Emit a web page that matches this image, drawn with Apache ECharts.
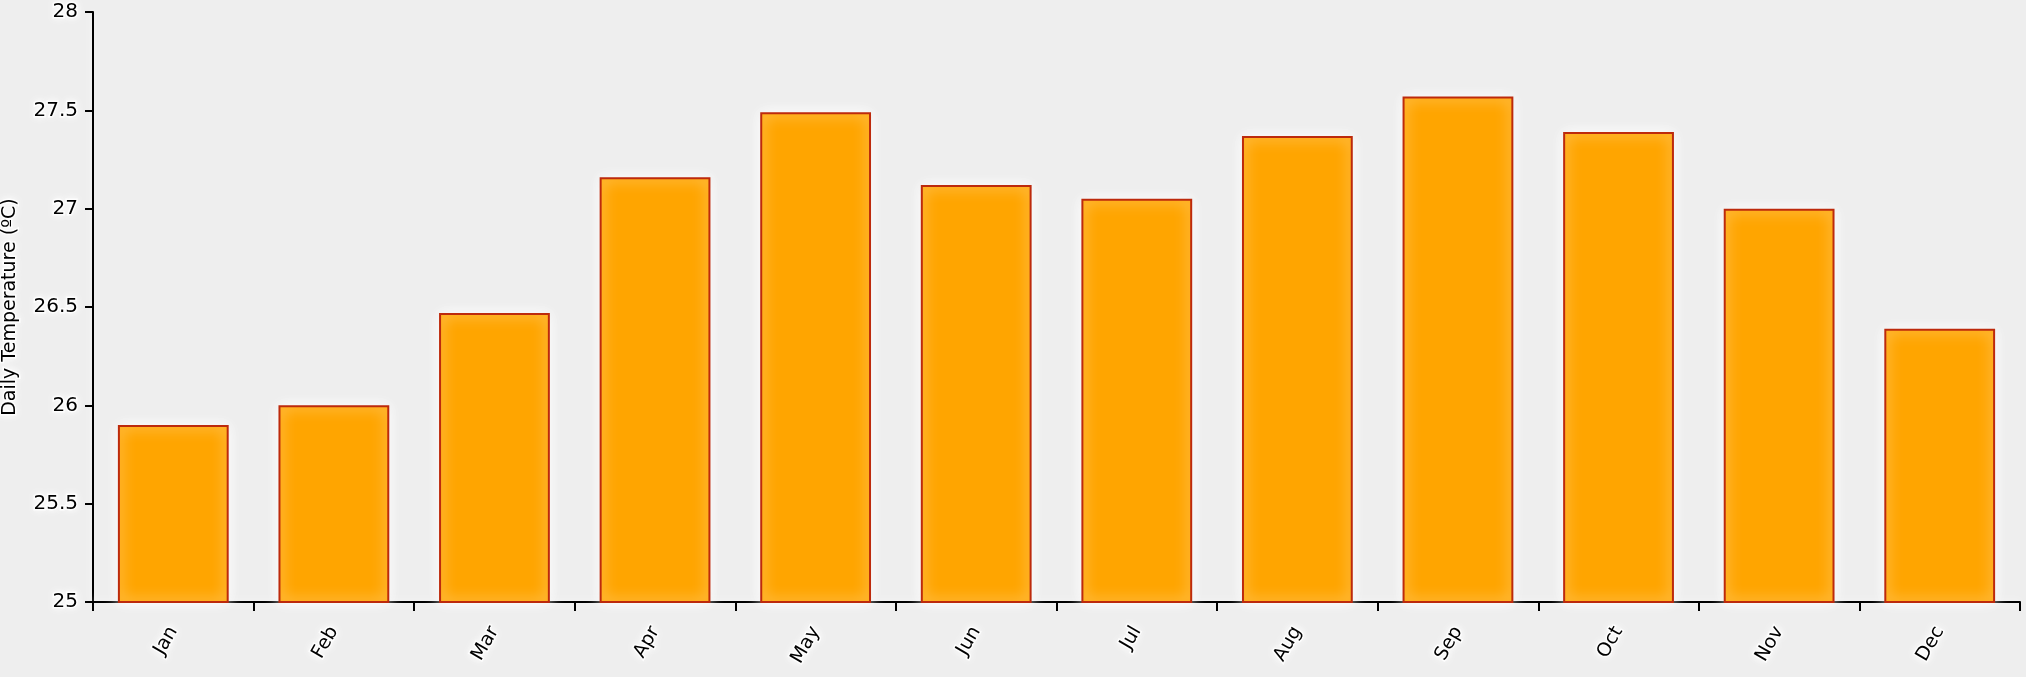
<!DOCTYPE html>
<html>
<head>
<meta charset="utf-8">
<script src="https://cdn.jsdelivr.net/npm/echarts@6/dist/echarts.min.js"></script>
<style>
html,body{margin:0;padding:0;background:#eeeeee;}
#chart{width:2026px;height:677px;}
</style>
</head>
<body>
<div id="chart"></div>
<script>
const categories = ['Jan','Feb','Mar','Apr','May','Jun','Jul','Aug','Sep','Oct','Nov','Dec'];
const temperatures = [25.9, 26.0, 26.47, 27.16, 27.49, 27.12, 27.05, 27.37, 27.57, 27.39, 27.0, 26.39];
const yAxisTitle = 'Daily Temperature (ºC)';

const FONT = 'DejaVu Sans';
const glowText = {textBorderColor:'rgba(255,255,255,0.85)', textBorderWidth:3, textShadowColor:'#ffffff', textShadowBlur:8};

const chart = echarts.init(document.getElementById('chart'), null, {renderer:'canvas'});
chart.setOption({
  backgroundColor:'#eeeeee',
  animation:false,
  grid:{left:93, right:6, top:12, bottom:75, containLabel:false, outerBoundsMode:'none'},
  xAxis:{
    type:'category',
    data:categories,
    axisLine:{lineStyle:{color:'#000', width:2, shadowColor:'#fff', shadowBlur:8}},
    axisTick:{show:true, length:9, alignWithLabel:false, lineStyle:{color:'#000', width:2}},
    axisLabel:{rotate:60, margin:26, fontSize:19, fontFamily:FONT, color:'#000', ...glowText},
    splitLine:{show:false}
  },
  yAxis:{
    type:'value',
    min:25, max:28, interval:0.5,
    name:yAxisTitle,
    nameLocation:'middle',
    nameGap:65,
    nameTextStyle:{fontSize:19, fontFamily:FONT, color:'#000', ...glowText},
    axisLine:{show:true, lineStyle:{color:'#000', width:2, shadowColor:'#fff', shadowBlur:8}},
    axisTick:{show:true, length:8, lineStyle:{color:'#000', width:2}},
    axisLabel:{margin:15, fontSize:20, fontFamily:FONT, color:'#000', ...glowText},
    splitLine:{show:false}
  },
  series:[{
    type:'bar',
    data:temperatures,
    barCategoryGap:'31%',
    itemStyle:{
      color:'#ffa500',
      borderColor:'#bd2a0c',
      borderWidth:2,
      shadowColor:'rgba(255,255,255,1)',
      shadowBlur:14
    }
  }]
});
</script>
</body>
</html>
